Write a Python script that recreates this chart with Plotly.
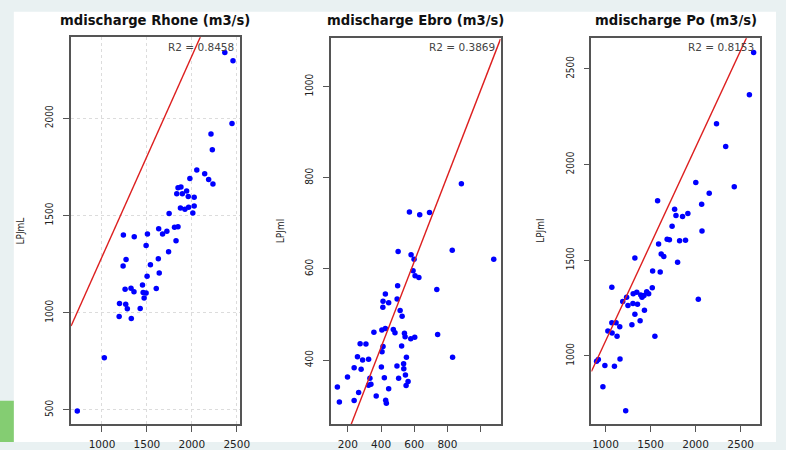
import plotly.graph_objects as go

W, H = 786, 450

# ---------------- data ----------------
rhone_x = [2367, 2458, 2447, 2213, 2228, 2055, 2143, 1978, 2187, 2235, 1846, 1879, 1942, 1832,
           1894, 1960, 2026, 1873, 1923, 1964, 2026, 2011, 1747, 1846, 1807, 1631, 1722, 1674,
           1506, 1238, 1359, 1824, 1491, 1741, 1268, 1627, 1235, 1539, 1637, 1502, 1451, 1604,
           1257, 1323, 1356, 1458, 1491, 1469, 1195, 1264, 1282, 1425, 1191, 1326, 1026, 725]
rhone_y = [2338, 2296, 1973, 1919, 1838, 1734, 1715, 1690, 1685, 1662, 1643, 1646, 1626, 1611,
           1611, 1597, 1594, 1538, 1532, 1542, 1548, 1513, 1510, 1442, 1439, 1432, 1419, 1405,
           1404, 1399, 1390, 1370, 1345, 1313, 1273, 1278, 1240, 1247, 1204, 1188, 1143, 1124,
           1121, 1126, 1108, 1104, 1101, 1076, 1047, 1043, 1020, 1022, 980, 970, 768, 495]

ebro_x = [884, 571, 633, 692, 503, 829, 581, 599, 1079, 593, 605, 628, 500, 736, 426, 412, 446,
          497, 411, 515, 527, 357, 405, 426, 474, 484, 541, 741, 545, 579, 603, 274, 309, 412,
          524, 406, 831, 258, 289, 325, 553, 536, 238, 280, 402, 496, 537, 198, 333, 420, 506,
          547, 563, 339, 325, 551, 137, 446, 265, 371, 149, 238, 428, 432]
ebro_y = [787, 725, 719, 724, 638, 641, 631, 621, 621, 596, 585, 581, 563, 555, 545, 529, 526,
          534, 516, 509, 496, 461, 466, 469, 467, 460, 459, 456, 451, 447, 450, 436, 435, 430,
          431, 418, 406, 407, 400, 402, 406, 392, 383, 380, 385, 387, 381, 363, 360, 361, 360,
          367, 353, 347, 345, 344, 341, 337, 329, 321, 308, 311, 312, 305]

po_x = [2644, 2597, 2232, 2334, 2002, 2429, 2151, 1578, 2067, 1767, 1782, 1855, 1914, 1739, 2071,
        1684, 1709, 1822, 1888, 1589, 1618, 1647, 1326, 1800, 1523, 1607, 1070, 1519, 1457, 1479,
        1307, 1347, 1391, 1427, 1405, 1234, 1191, 1304, 1355, 1249, 2030, 1432, 1326, 1384, 1293,
        1070, 1117, 1158, 1026, 1073, 1128, 1548, 920, 901, 1161, 993, 1099, 971, 1224]
po_y = [2586, 2365, 2213, 2095, 1906, 1884, 1850, 1811, 1792, 1766, 1734, 1729, 1744, 1678, 1653,
        1609, 1607, 1602, 1604, 1585, 1532, 1520, 1511, 1489, 1443, 1438, 1359, 1356, 1335, 1325,
        1325, 1332, 1318, 1315, 1306, 1306, 1284, 1274, 1270, 1263, 1296, 1238, 1217, 1183, 1162,
        1173, 1173, 1152, 1130, 1120, 1103, 1103, 981, 972, 983, 949, 945, 839, 713]

titles = ["mdischarge Rhone (m3/s)", "mdischarge Ebro (m3/s)", "mdischarge Po (m3/s)"]
ylabels = ["LPJmL", "LPJml", "LPJml"]
r2_labels = ["R2 = 0.8458", "R2 = 0.3869", "R2 = 0.8153"]
line_intercepts = [254, 52, 64]
line_slopes = [1.033, 0.94, 1.013]

x_ticks = [[1000, 1500, 2000, 2500], [200, 400, 600, 800, 1000], [1000, 1500, 2000, 2500]]
x_ticktext = [["1000", "1500", "2000", "2500"], ["200", "400", "600", "800", ""],
              ["1000", "1500", "2000", "2500"]]
y_ticks = [[500, 1000, 1500, 2000], [400, 600, 800, 1000], [1000, 1500, 2000, 2500]]

# ---------------- layout geometry ----------------
x_ranges = [[656, 2535], [97, 1120], [843, 2717]]
y_ranges = [[426, 2416], [259, 1106], [642, 2660]]
px_x = [(72, 243), (335, 507), (599, 770)]
px_y = [(38, 432), (39, 432), (39, 432)]
show_grid = [True, False, False]

xs = [rhone_x, ebro_x, po_x]
ys = [rhone_y, ebro_y, po_y]

fig = go.Figure()
FRAME = "#555555"
tick_font_x = dict(family="DejaVu Sans", size=10.5, color="#222222")
NARROW = "Liberation Sans Narrow, DejaVu Sans Condensed, sans-serif"
tick_font_y = dict(family=NARROW, size=10, color="#222222")

annotations = []
for i in range(3):
    sfx = "" if i == 0 else str(i + 1)
    xa, ya = "x" + sfx, "y" + sfx
    fig.add_trace(go.Scatter(x=xs[i], y=ys[i], mode="markers", xaxis=xa, yaxis=ya,
                             marker=dict(color="#0000ff", size=5.5, line=dict(width=0)),
                             showlegend=False, hoverinfo="x+y"))
    lx = x_ranges[i]
    ly = [line_intercepts[i] + line_slopes[i] * v for v in lx]
    fig.add_trace(go.Scatter(x=lx, y=ly, mode="lines", xaxis=xa, yaxis=ya,
                             line=dict(color="#dd1f1f", width=1.4), showlegend=False,
                             hoverinfo="skip"))
    x0, x1 = px_x[i]
    y0, y1 = px_y[i]
    axis_common = dict(showline=True, mirror=True, linecolor=FRAME, linewidth=1.5,
                       ticks="outside", ticklen=6, tickcolor=FRAME, tickwidth=1,
                       zeroline=False, showgrid=show_grid[i], gridcolor="#dcdcdc",
                       griddash="dot", gridwidth=1)
    fig.layout["xaxis" + sfx] = dict(domain=[x0 / W, x1 / W], range=x_ranges[i], anchor=ya,
                                     tickvals=x_ticks[i], ticktext=x_ticktext[i],
                                     tickfont=tick_font_x, ticklabelstandoff=3, **axis_common)
    fig.layout["yaxis" + sfx] = dict(domain=[1 - y1 / H, 1 - y0 / H], range=y_ranges[i], anchor=xa,
                                     tickvals=y_ticks[i], tickangle=-90,
                                     tickfont=tick_font_y, ticklabelstandoff=6, **axis_common)
    cx = (x0 + x1) / 2
    annotations.append(dict(text=titles[i], x=cx / W, y=1 - 21 / H, xref="paper", yref="paper",
                            showarrow=False, xanchor="center", yanchor="middle",
                            font=dict(family="DejaVu Sans", size=13.2, color="#111111", weight="bold")))
    annotations.append(dict(text=r2_labels[i], x=(x1 - 4) / W, y=1 - 48 / H, xref="paper", yref="paper",
                            showarrow=False, xanchor="right", yanchor="middle",
                            font=dict(family="DejaVu Sans", size=10.5, color="#444444")))
    annotations.append(dict(text=ylabels[i], x=(x0 - 51) / W, y=1 - 235 / H, xref="paper", yref="paper",
                            showarrow=False, xanchor="center", yanchor="middle", textangle=-90,
                            font=dict(family=NARROW, size=10, color="#222222")))

shapes = [
    dict(type="rect", xref="paper", yref="paper", x0=14 / W, x1=1, y0=0, y1=1 - 12 / H,
         fillcolor="white", line=dict(width=0), layer="below"),
    dict(type="rect", xref="paper", yref="paper", x0=0, x1=14 / W, y0=0, y1=1 - 408 / H,
         fillcolor="#84cd72", line=dict(width=0), layer="below"),
]

fig.update_layout(width=W, height=H, margin=dict(l=0, r=0, t=0, b=0),
                  paper_bgcolor="#e9f1f2", plot_bgcolor="white",
                  annotations=annotations, shapes=shapes, showlegend=False)

fig.write_html("out.html", config={"displayModeBar": False},
               post_script="document.body.style.margin='0px';")
